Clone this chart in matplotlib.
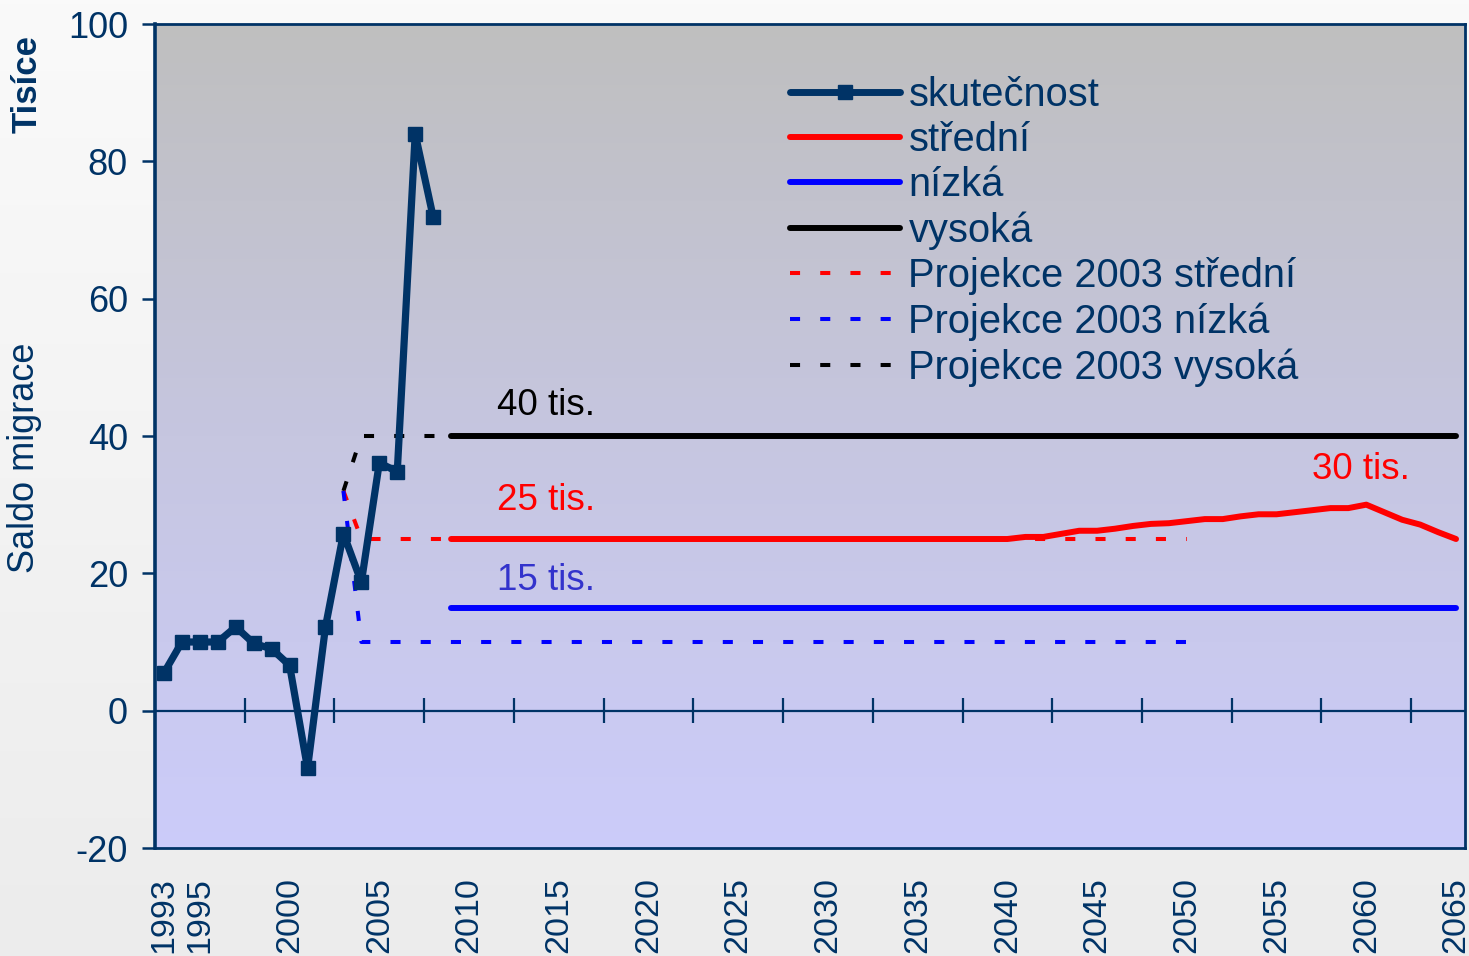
import numpy as np
import matplotlib
matplotlib.use("Agg")
import matplotlib.pyplot as plt
from matplotlib.colors import LinearSegmentedColormap
from matplotlib.lines import Line2D

plt.rcParams['font.family'] = ['Liberation Sans', 'DejaVu Sans']
plt.rcParams['axes.unicode_minus'] = False

# ---------------- data ----------------
years = list(range(1993, 2066))
label_years = [1993, 1995, 2000, 2005, 2010, 2015, 2020, 2025, 2030, 2035,
               2040, 2045, 2050, 2055, 2060, 2065]

actual_years = list(range(1993, 2009))
actual_vals = [5.5, 10.0, 10.0, 10.0, 12.2, 9.8, 9.0, 6.6, -8.4, 12.2,
               25.8, 18.7, 36.1, 34.8, 84.0, 71.9]

proj_years = list(range(2009, 2066))
stredni_tail_years = list(range(2040, 2066))
stredni_tail = [25.0, 25.3, 25.3, 25.75, 26.2, 26.2, 26.5, 26.9, 27.2, 27.3,
                27.6, 27.9, 27.9, 28.3, 28.6, 28.6, 28.9, 29.2, 29.5, 29.5,
                30.0, 28.9, 27.8, 27.1, 26.0, 25.0]
stredni_vals = [25.0] * (2040 - 2009) + stredni_tail
nizka_vals = [15.0] * len(proj_years)
vysoka_vals = [40.0] * len(proj_years)

p03_years = list(range(2003, 2051))
p03_stredni = [32.0] + [25.0] * (len(p03_years) - 1)
p03_nizka = [32.0] + [10.0] * (len(p03_years) - 1)
p03_vysoka = [32.0] + [40.0] * (len(p03_years) - 1)

legend_labels = ["skutečnost", "střední", "nízká", "vysoká",
                 "Projekce 2003 střední", "Projekce 2003 nízká",
                 "Projekce 2003 vysoká"]
annotations = [("40 tis.", 2011.55, 44.4, "black"),
               ("25 tis.", 2011.55, 30.6, "#ff0000"),
               ("15 tis.", 2011.55, 18.9, "#3333cc"),
               ("30 tis.", 2057.0, 35.1, "#ff0000")]

NAVY = "#003366"

def idx(ys):
    return [y - years[0] for y in ys]

# ---------------- figure ----------------
W, H = 1469, 956
fig = plt.figure(figsize=(W / 100, H / 100), dpi=100)

# figure background gradient
bg = fig.add_axes([0, 0, 1, 1], zorder=-10)
bg_cmap = LinearSegmentedColormap.from_list("bg", ["#fafafa", "#ececec"])
bg.imshow(np.linspace(0, 1, 256).reshape(-1, 1), aspect="auto", cmap=bg_cmap,
          extent=[0, 1, 0, 1])
bg.set_axis_off()

L, R, T, B = 155, 1465, 24, 848
ax = fig.add_axes([L / W, (H - B) / H, (R - L) / W, (B - T) / H])

# plot area gradient (gray at top -> lavender at bottom)
pa_cmap = LinearSegmentedColormap.from_list("pa", ["#bfbfbf", "#c6c6e0", "#ccccfa"])
ax.imshow(np.linspace(0, 1, 256).reshape(-1, 1), aspect="auto", cmap=pa_cmap,
          extent=[-0.5, len(years) - 0.5, -20, 100], origin="upper", zorder=0)
ax.set_xlim(-0.5, len(years) - 0.5)
ax.set_ylim(-20, 100)

# zero line with crossing tick marks
ax.axhline(0, color=NAVY, lw=1.6, zorder=1)
tick_bounds = np.arange(5, len(years), 5) - 0.5
ax.vlines(tick_bounds, -1.8, 1.8, color=NAVY, lw=1.6, zorder=1)

dash = (2.5, 5.0)
lw_d = 2.9
ax.plot(idx(p03_years), p03_vysoka, color="black", lw=lw_d, dashes=dash, zorder=2)
ax.plot(idx(p03_years), p03_stredni, color="#ff0000", lw=lw_d, dashes=dash, zorder=2)
ax.plot(idx(p03_years), p03_nizka, color="#0000ff", lw=lw_d, dashes=dash, zorder=2)

lw_s = 4.3
ax.plot(idx(proj_years), vysoka_vals, color="black", lw=lw_s,
        solid_capstyle="round", zorder=3)
ax.plot(idx(proj_years), stredni_vals, color="#ff0000", lw=lw_s,
        solid_capstyle="round", zorder=3)
ax.plot(idx(proj_years), nizka_vals, color="#0000ff", lw=lw_s,
        solid_capstyle="round", zorder=3)
ax.plot(idx(actual_years), actual_vals, color=NAVY, lw=5.2,
        marker="s", ms=9.5, mec=NAVY, mfc=NAVY, zorder=4)

for txt, xv, yv, c in annotations:
    ax.text(xv - years[0], yv, txt, color=c, fontsize=26.5, ha="left",
            va="center", zorder=5)

# axes styling
for s in ax.spines.values():
    s.set_color(NAVY)
    s.set_linewidth(2.0)
ax.spines["left"].set_linewidth(2.6)
ax.set_yticks(np.arange(-20, 101, 20))
ax.tick_params(axis="y", colors=NAVY, labelsize=26, length=9.5, width=1.8,
               direction="out", pad=10)
ax.set_xticks(idx(label_years))
ax.set_xticklabels([str(y) for y in label_years], rotation=90)
ax.tick_params(axis="x", colors=NAVY, labelsize=24.5, length=0, pad=21)
for lab in ax.get_xticklabels():
    lab.set_va("top")

# legend
handles = [
    Line2D([], [], color=NAVY, lw=5.0, marker="s", ms=9.5, solid_capstyle="round"),
    Line2D([], [], color="#ff0000", lw=lw_s, solid_capstyle="round"),
    Line2D([], [], color="#0000ff", lw=lw_s, solid_capstyle="round"),
    Line2D([], [], color="black", lw=lw_s, solid_capstyle="round"),
    Line2D([], [], color="#ff0000", lw=lw_d, dashes=dash),
    Line2D([], [], color="#0000ff", lw=lw_d, dashes=dash),
    Line2D([], [], color="black", lw=lw_d, dashes=dash),
]
leg = fig.legend(handles, legend_labels, loc="upper left",
                 bbox_to_anchor=(790 / W, 1 - 76 / H), frameon=False,
                 fontsize=28.7, handlelength=2.75, handletextpad=0.22,
                 labelspacing=0.18, borderpad=0, borderaxespad=0,
                 numpoints=1)
for t in leg.get_texts():
    t.set_color(NAVY)

# axis titles
fig.text(25 / W, 1 - 458 / H, "Saldo migrace", rotation=90, color=NAVY,
         fontsize=26, ha="center", va="center")
fig.text(27 / W, 1 - 84 / H, "Tisíce", rotation=90, color=NAVY,
         fontsize=25, fontweight="bold", ha="center", va="center")

fig.savefig("out.png", dpi=100)
